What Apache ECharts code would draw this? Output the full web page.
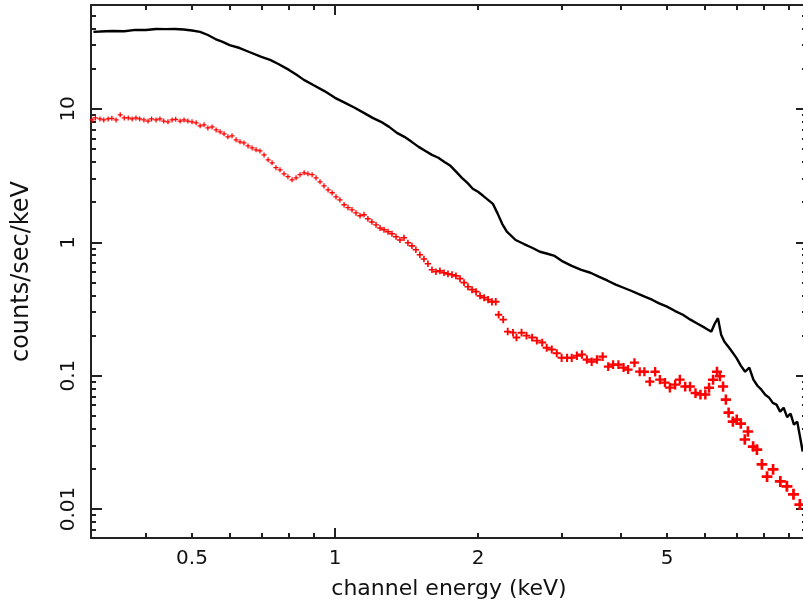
<!DOCTYPE html>
<html><head><meta charset="utf-8">
<script src="https://cdn.jsdelivr.net/npm/echarts@6/dist/echarts.min.js"></script>
<style>html,body{margin:0;padding:0;background:#fff}#c{width:803px;height:607px}</style>
</head><body><div id="c"></div>
<script>
// ---- axis ticks / labels ----
const xMajorTicks = [1, 10];
const xMinorTicks = [0.4, 0.5, 0.6, 0.7, 0.8, 0.9, 2, 3, 4, 5, 6, 7, 8, 9];
const xTickLabels = [0.5, 1, 2, 5];
const yMajorTicks = [0.01, 0.1, 1, 10];
const yMinorTicks = [0.007, 0.008, 0.009, 0.02, 0.03, 0.04, 0.05, 0.06, 0.07, 0.08, 0.09,
  0.2, 0.3, 0.4, 0.5, 0.6, 0.7, 0.8, 0.9, 2, 3, 4, 5, 6, 7, 8, 9, 20, 30, 40, 50];
const yTickLabels = [0.01, 0.1, 1, 10];
const xAxisName = 'channel energy (keV)';
const yAxisName = 'counts/sec/keV';

// ---- black spectrum ----
const blackEnergy = [0.31,0.32,0.34,0.36,0.38,0.40,0.42,0.44,0.46,0.48,0.50,0.52,0.54,0.56,0.58,0.60,
  0.63,0.66,0.70,0.73,0.76,0.80,0.83,0.86,0.90,0.95,
  1.00,1.05,1.10,1.15,1.20,1.25,1.30,1.35,1.40,1.45,1.50,1.55,1.60,1.65,1.70,1.75,1.80,1.85,1.90,1.95,2.00,2.05,2.10,2.15,2.20,2.25,2.30,
  2.40,2.50,2.60,2.70,2.80,2.90,3.00,
  3.15,3.30,3.45,3.60,3.75,3.90,4.05,4.20,4.35,4.50,4.65,4.80,
  5.00,5.20,5.40,5.60,5.80,6.00,
  6.10,6.20,6.30,6.40,6.50,6.60,6.80,7.00,
  7.15,7.30,7.45,7.60,7.75,7.90,8.05,8.20,8.35,8.50,8.65,8.80,8.95,9.10,9.25,9.40,9.55,9.65];
const blackRate = [37.8,38.0,38.4,38.2,39.1,39.0,39.7,39.6,39.7,39.4,38.7,37.8,35.8,33.4,31.8,30.1,
  28.6,26.7,24.5,23.3,21.7,19.6,18.0,16.5,15.1,13.6,
  12.1,11.1,10.2,9.34,8.56,8.0,7.33,6.61,6.17,5.66,5.19,4.84,4.52,4.3,4.0,3.74,3.37,3.04,2.79,2.52,2.39,2.23,2.08,1.94,1.64,1.37,1.20,
  1.04,0.97,0.91,0.849,0.82,0.79,0.726,
  0.666,0.622,0.591,0.55,0.515,0.481,0.456,0.433,0.41,0.39,0.371,0.35,
  0.329,0.305,0.286,0.263,0.245,0.229,
  0.221,0.214,0.245,0.27,0.203,0.18,0.157,0.136,
  0.119,0.107,0.115,0.0933,0.084,0.0785,0.072,0.0684,0.0625,0.0606,0.0537,0.0575,0.0489,0.052,0.0429,0.0452,0.0332,0.027];

// ---- red spectrum ----
const redEnergy = [0.308,0.313,0.320,0.326,0.333,0.339,0.346,0.353,0.360,0.367,
  0.374,0.381,0.388,0.396,0.404,0.411,0.420,0.428,0.436,0.445,
  0.454,0.462,0.472,0.481,0.490,0.500,0.510,0.520,0.530,0.540,
  0.551,0.562,0.573,0.584,0.595,0.607,0.619,0.631,0.643,0.656,
  0.669,0.682,0.695,0.709,0.723,0.737,0.751,0.766,0.781,0.796,
  0.812,0.828,0.844,0.861,0.877,0.895,0.912,0.930,0.948,0.967,
  0.986,1.005,1.024,1.045,1.065,1.086,1.107,1.129,1.151,1.173,
  1.196,1.220,1.244,1.268,1.293,1.318,1.344,1.370,1.397,1.424,
  1.452,1.480,1.509,1.539,1.569,1.600,1.631,1.663,1.696,1.729,
  1.763,1.797,1.833,1.869,1.905,1.943,1.981,2.02,2.06,2.10,
  2.14,2.18,2.21,2.26,2.31,2.37,2.41,2.47,2.53,2.60,
  2.66,2.73,2.79,2.86,2.93,3.00,3.08,3.15,3.23,3.31,
  3.39,3.47,3.56,3.66,3.76,3.85,3.95,4.05,4.14,4.27,
  4.38,4.48,4.60,4.72,4.83,4.95,5.07,5.20,5.32,5.46,
  5.59,5.74,5.88,6.02,6.13,6.25,6.37,6.46,6.56,6.65,
  6.74,6.88,7.01,7.15,7.29,7.40,7.59,7.73,7.92,8.12,
  8.36,8.66,8.94,9.23,9.52];
const redRate = [8.27,8.56,8.4,8.27,8.4,8.5,8.27,9.02,8.56,8.56,
  8.4,8.56,8.4,8.27,8.1,8.4,8.27,8.4,8.1,8.0,
  8.27,8.35,8.1,8.27,8.1,8.0,7.87,7.46,7.59,7.2,
  7.33,6.96,6.73,6.5,6.17,6.28,5.86,5.66,5.56,5.28,
  5.10,4.93,4.84,4.52,4.15,3.94,3.62,3.49,3.26,3.10,
  2.94,3.04,3.21,3.32,3.26,3.21,3.04,2.84,2.65,2.47,
  2.35,2.19,2.08,1.91,1.82,1.75,1.66,1.58,1.61,1.50,
  1.42,1.35,1.28,1.24,1.20,1.16,1.10,1.04,1.08,0.991,
  0.94,0.879,0.806,0.75,0.69,0.622,0.601,0.61,0.591,0.58,
  0.571,0.56,0.533,0.498,0.464,0.441,0.426,0.397,0.384,0.371,
  0.358,0.358,0.286,0.263,0.214,0.21,0.193,0.21,0.1995,0.193,
  0.183,0.177,0.162,0.157,0.147,0.136,0.136,0.136,0.141,0.144,
  0.132,0.127,0.132,0.139,0.117,0.121,0.121,0.115,0.111,0.125,
  0.107,0.107,0.0901,0.107,0.0933,0.0887,0.0813,0.0857,0.0933,0.0828,
  0.0828,0.074,0.0721,0.0721,0.0813,0.0933,0.107,0.099,0.0828,0.0661,
  0.0528,0.0452,0.0468,0.0437,0.0332,0.0381,0.0294,0.0279,0.0216,0.0175,
  0.0198,0.0161,0.0148,0.0129,0.0108];

// ---- axis extents ----
const xMin = 0.3064, xMax = 9.855;
const yMin = 0.006065, yMax = 60.1;

const FONT = 'DejaVu Sans';
const LINE = '#222';
const fmt = v => String(+(+v).toPrecision(6));

function xAx(pos, ticks, len, showLine, labels) {
  return {
    type: 'log', logBase: 10, position: pos, min: xMin, max: xMax,
    axisLine: { show: showLine, onZero: false, lineStyle: { color: LINE, width: 2 } },
    axisTick: { show: true, inside: true, length: len, customValues: ticks, lineStyle: { color: LINE, width: 2 } },
    axisLabel: labels ? { show: true, customValues: labels, formatter: fmt, margin: 11,
      fontFamily: FONT, fontSize: 20, color: '#111' } : { show: false },
    splitLine: { show: false }, minorTick: { show: false }, minorSplitLine: { show: false }
  };
}
function yAx(pos, ticks, len, showLine, labels) {
  return {
    type: 'log', logBase: 10, position: pos, min: yMin, max: yMax,
    axisLine: { show: showLine, onZero: false, lineStyle: { color: LINE, width: 2 } },
    axisTick: { show: true, inside: true, length: len, customValues: ticks, lineStyle: { color: LINE, width: 2 } },
    axisLabel: labels ? { show: true, customValues: labels, formatter: fmt, rotate: 90, margin: 12,
      fontFamily: FONT, fontSize: 20, color: '#111' } : { show: false },
    splitLine: { show: false }, minorTick: { show: false }, minorSplitLine: { show: false }
  };
}

const xAxes = [
  xAx('bottom', xMajorTicks, 10, true, xTickLabels),
  xAx('bottom', xMinorTicks, 5, false, null),
  xAx('top', xMajorTicks, 10, true, null),
  xAx('top', xMinorTicks, 5, false, null)
];
Object.assign(xAxes[0], { name: xAxisName, nameLocation: 'middle', nameGap: 40,
  nameTextStyle: { fontFamily: FONT, fontSize: 22, color: '#111' } });
const yAxes = [
  yAx('left', yMajorTicks, 11, true, yTickLabels),
  yAx('left', yMinorTicks, 5, false, null),
  yAx('right', yMajorTicks, 11, true, null),
  yAx('right', yMinorTicks, 5, false, null)
];
Object.assign(yAxes[0], { name: yAxisName, nameLocation: 'middle', nameGap: 57, nameRotate: 90,
  nameTextStyle: { fontFamily: FONT, fontSize: 24, color: '#111' } });

const blackData = blackEnergy.map((e, i) => [e, blackRate[i]]);
const redData = redEnergy.map((e, i) => [e, redRate[i]]);

const PLUS = 'path://M3.75,0H6.25V3.75H10V6.25H6.25V10H3.75V6.25H0V3.75H3.75Z';

const chart = echarts.init(document.getElementById('c'), null, { renderer: 'canvas' });
chart.setOption({
  animation: false,
  backgroundColor: '#fff',
  grid: { left: 91, top: 5, right: -4, bottom: 69, containLabel: false, outerBoundsMode: 'none' },
  xAxis: xAxes,
  yAxis: yAxes,
  series: [
    {
      type: 'line', xAxisIndex: 0, yAxisIndex: 0, data: blackData,
      showSymbol: false, symbol: 'none',
      lineStyle: { color: '#000', width: 2.4 }, z: 3
    },
    {
      type: 'scatter', xAxisIndex: 0, yAxisIndex: 0, data: redData,
      symbol: PLUS,
      symbolSize: function (v) {
        const w = Math.max(5, Math.min(11, 5 + 6 * Math.log10(v[0] / 0.9)));
        return [w, w];
      },
      itemStyle: { color: '#ff0000', opacity: 1 }, z: 4
    }
  ]
});
</script>
</body></html>
